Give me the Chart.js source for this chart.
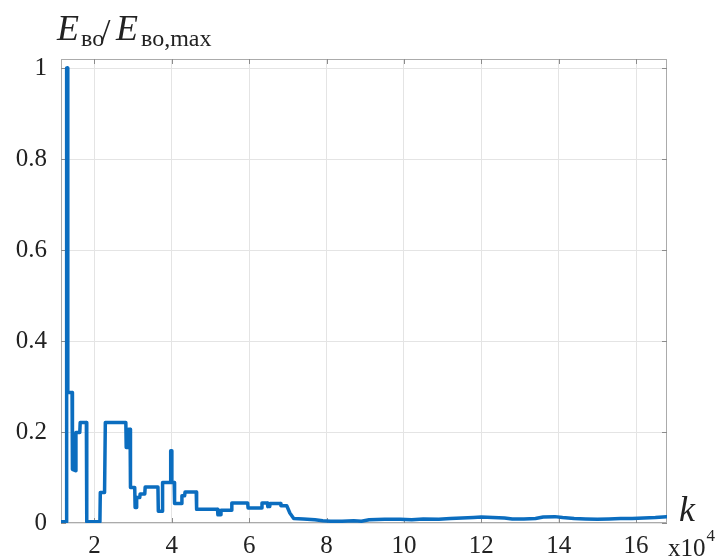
<!DOCTYPE html>
<html>
<head>
<meta charset="utf-8">
<script src="https://cdn.jsdelivr.net/npm/chart.js@4.4.1/dist/chart.umd.min.js"></script>
<style>
  html, body { margin: 0; padding: 0; background: #ffffff; }
  #wrap { width: 723px; height: 559px; position: relative; }
  canvas { display: block; }
</style>
</head>
<body>
<div id="wrap"><canvas id="chart" width="723" height="559"></canvas></div>
<script>
// Iteration index k (in units of 10^4) and normalised energy E_во / E_во,max
const kValues = [
  1.134, 1.27, 1.28, 1.30, 1.31, 1.42, 1.43, 1.51, 1.52, 1.62, 1.63, 1.79, 1.80,
  2.14, 2.15, 2.26, 2.28, 2.81, 2.82, 2.87, 2.88, 2.92, 2.93, 3.04, 3.05, 3.08,
  3.09, 3.17, 3.18, 3.30, 3.31, 3.64, 3.65, 3.75, 3.76, 3.96, 3.97, 3.99, 4.00,
  4.06, 4.07, 4.25, 4.26, 4.33, 4.34, 4.63, 4.64, 5.18, 5.19, 5.26, 5.27, 5.54,
  5.55, 5.96, 5.97, 6.32, 6.33, 6.47, 6.48, 6.53, 6.54, 6.81, 6.82, 6.97, 7.05,
  7.15, 7.4, 7.7, 7.9, 8.1, 8.4, 8.7, 8.9, 9.1, 9.5, 9.9, 10.2, 10.5, 10.9, 11.2,
  11.5, 11.8, 12.0, 12.3, 12.6, 12.8, 13.1, 13.4, 13.6, 13.9, 14.1, 14.4, 14.7,
  15.0, 15.3, 15.6, 15.9, 16.2, 16.5, 16.79
];
const eRatio = [
  0.003, 0.003, 1.0, 1.0, 0.287, 0.287, 0.118, 0.115, 0.199, 0.199, 0.221, 0.221, 0.003,
  0.003, 0.067, 0.067, 0.221, 0.221, 0.166, 0.166, 0.206, 0.206, 0.078, 0.078, 0.034, 0.034,
  0.056, 0.056, 0.064, 0.064, 0.079, 0.079, 0.026, 0.026, 0.089, 0.089, 0.159, 0.159, 0.089,
  0.089, 0.043, 0.043, 0.060, 0.060, 0.068, 0.068, 0.030, 0.030, 0.018, 0.018, 0.028, 0.028,
  0.044, 0.044, 0.033, 0.033, 0.044, 0.044, 0.036, 0.036, 0.043, 0.043, 0.038, 0.038, 0.022,
  0.010, 0.009, 0.007, 0.005, 0.004, 0.004, 0.005, 0.004, 0.007, 0.008, 0.008, 0.007, 0.009, 0.008, 0.010,
  0.011, 0.012, 0.013, 0.012, 0.011, 0.009, 0.009, 0.010, 0.013, 0.014, 0.012, 0.010, 0.009,
  0.008, 0.009, 0.010, 0.010, 0.011, 0.012, 0.014
];

const xRange = [1.134, 16.8];
const yRange = [0, 1.02];
const xTickStep = 2;
const yTickStep = 0.2;

const points = kValues.map((k, i) => ({ x: k, y: eRatio[i] }));

const SERIF = '"Liberation Serif", "Times New Roman", serif';
const GRID = '#e4e4e4';
const FRAME = '#ababab';
const TEXT = '#222222';

// Box around the axes with short inward tick marks on all four sides
const framePlugin = {
  id: 'frame',
  beforeDatasetsDraw(chart) {
    const { ctx, chartArea: a, scales } = chart;
    ctx.save();
    ctx.strokeStyle = FRAME;
    ctx.lineWidth = 1;
    ctx.strokeRect(a.left + 0.5, a.top + 0.5, a.right - a.left - 1, a.bottom - a.top - 1);
    ctx.strokeStyle = '#8c8c8c';
    const len = 5;
    scales.x.ticks.forEach(t => {
      const px = Math.round(scales.x.getPixelForValue(t.value)) + 0.5;
      ctx.beginPath();
      ctx.moveTo(px, a.bottom); ctx.lineTo(px, a.bottom - len);
      ctx.moveTo(px, a.top); ctx.lineTo(px, a.top + len);
      ctx.stroke();
    });
    scales.y.ticks.forEach(t => {
      const py = Math.round(scales.y.getPixelForValue(t.value)) + 0.5;
      ctx.beginPath();
      ctx.moveTo(a.left, py); ctx.lineTo(a.left + len, py);
      ctx.moveTo(a.right, py); ctx.lineTo(a.right - len, py);
      ctx.stroke();
    });
    ctx.restore();
  }
};

// Axis names: E_во/E_во,max above the y axis, k and the x10^4 multiplier at the x axis end
const axisNamesPlugin = {
  id: 'axisNames',
  afterDraw(chart) {
    const { ctx, chartArea: a } = chart;
    ctx.save();
    ctx.fillStyle = TEXT;
    ctx.textBaseline = 'alphabetic';
    ctx.textAlign = 'left';

    const big = 'italic 36px ' + SERIF;
    const sub = '24px ' + SERIF;
    ctx.font = big; ctx.fillText('E', 57, 40);
    ctx.font = sub; ctx.fillText('во', 81, 46);
    ctx.font = '34px ' + SERIF; ctx.fillText('/', 101, 42);
    ctx.font = big; ctx.fillText('E', 116, 40);
    ctx.font = sub; ctx.fillText('во,max', 141, 46);

    ctx.font = big;
    ctx.fillText('k', a.right + 12, a.bottom - 2);

    ctx.font = '25px ' + SERIF;
    ctx.fillText('x10', a.right + 1, 556);
    const w = ctx.measureText('x10').width;
    ctx.font = '17px ' + SERIF;
    ctx.fillText('4', a.right + 2 + w, 541);
    ctx.restore();
  }
};

new Chart(document.getElementById('chart'), {
  type: 'line',
  data: {
    datasets: [{
      data: points,
      borderColor: '#0b6dbf',
      borderWidth: 3.5,
      pointRadius: 0,
      tension: 0,
      fill: false,
      borderJoinStyle: 'round',
      borderCapStyle: 'round'
    }]
  },
  options: {
    responsive: false,
    devicePixelRatio: 1,
    animation: false,
    events: [],
    layout: { padding: { left: 0, top: 59, right: 56, bottom: 0 } },
    plugins: { legend: { display: false }, tooltip: { enabled: false } },
    scales: {
      x: {
        type: 'linear',
        min: xRange[0],
        max: xRange[1],
        afterFit(scale) { scale.height = 36; },
        grid: { color: GRID, drawTicks: false, lineWidth: 1 },
        border: { display: false },
        ticks: {
          stepSize: xTickStep,
          includeBounds: false,
          padding: 8,
          color: TEXT,
          font: { family: SERIF, size: 25 },
          maxRotation: 0,
          autoSkip: false,
          callback: v => String(Math.round(v))
        }
      },
      y: {
        type: 'linear',
        min: yRange[0],
        max: yRange[1],
        afterFit(scale) { scale.width = 61; },
        grid: { color: GRID, drawTicks: false, lineWidth: 1 },
        border: { display: false },
        ticks: {
          stepSize: yTickStep,
          includeBounds: false,
          padding: 14,
          color: TEXT,
          font: { family: SERIF, size: 25 },
          autoSkip: false,
          callback: v => String(Number(v.toFixed(2)))
        }
      }
    }
  },
  plugins: [framePlugin, axisNamesPlugin]
});
</script>
</body>
</html>
